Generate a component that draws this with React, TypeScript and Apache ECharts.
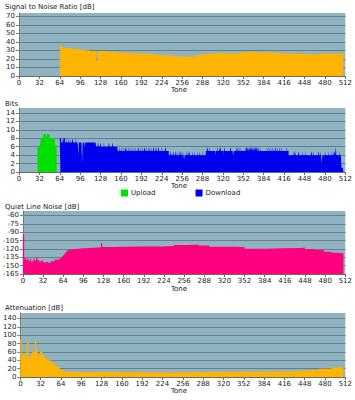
import React, { useEffect, useRef } from "react";
import * as echarts from "echarts";

// ---------- data ----------
const toneMax = 512;
const toneStep = 32;

// SNR [dB]: [startTone, value] steps (value holds until next start)
const snrSteps: [number, number][] = [
  [64, 36], [66, 34], [70, 33], [73, 33.5], [76, 32.5], [80, 32], [84, 32], [88, 31.5],
  [92, 31.5], [96, 30.5], [100, 31], [104, 30], [107, 30.5], [110, 29.5], [116, 29],
  [121, 18], [123, 29], [126, 29.5], [130, 29], [134, 29], [140, 28], [144, 28.5],
  [152, 28], [156, 27], [160, 27.5], [168, 27], [176, 27.5], [180, 26.5], [184, 26.5],
  [192, 26], [200, 26.5], [204, 25.5], [208, 26], [212, 25], [220, 24.5], [228, 24],
  [236, 23.5], [244, 23], [256, 22.5], [268, 23], [276, 24], [282, 25], [288, 26],
  [296, 26.5], [304, 26], [312, 27], [320, 26.5], [328, 26.5], [340, 27], [348, 28],
  [356, 28.5], [366, 28], [376, 27.5], [392, 27], [408, 26.5], [420, 26], [440, 25.5],
  [456, 25], [472, 26.5], [490, 26], [500, 26.5], [509, 26.5],
];

// Bits: [fromTone, toTone, bits] base levels, plus single-tone exceptions
const upBase: [number, number, number][] = [
  [29, 34, 6], [34, 38, 8], [38, 43, 9], [43, 44, 8], [44, 48, 9], [48, 57, 8], [57, 59, 6],
];
const downBase: [number, number, number][] = [
  [64, 121, 7], [121, 155, 6], [155, 235, 5], [235, 293, 4], [293, 423, 5], [423, 506, 4], [506, 509, 1],
];
const downExceptions: [number, number][] = [
  [64, 8], [65, 8], [68, 8], [70, 8], [71, 8], [74, 8], [77, 8], [80, 8], [84, 8], [89, 8],
  [93, 4], [99, 2], [103, 6], [124, 7], [128, 7], [133, 7], [141, 7], [147, 7],
  [157, 6], [160, 6], [163, 6], [166, 6], [168, 6], [171, 6], [174, 6], [177, 6], [180, 6],
  [183, 6], [187, 6], [190, 6], [193, 6], [197, 6], [200, 6], [204, 6], [207, 6], [211, 6],
  [215, 6], [219, 6], [224, 6], [230, 6],
  [238, 5], [242, 5], [246, 5], [249, 5], [252, 5], [254, 5], [257, 5], [259, 3], [262, 5],
  [265, 5], [267, 5], [272, 5], [275, 5], [280, 5], [283, 5], [288, 5],
  [296, 6], [299, 6], [308, 4], [311, 6], [314, 6], [316, 6], [321, 4], [322, 6], [332, 6],
  [336, 4], [342, 6], [345, 6], [348, 6], [355, 6], [357, 6], [359, 6], [361, 6], [363, 6],
  [365, 6], [367, 6], [369, 6], [371, 6], [373, 6], [375, 6], [378, 6], [389, 6], [392, 6],
  [395, 6], [398, 6], [402, 6], [405, 6], [408, 6], [411, 6], [420, 6],
  [431, 5], [433, 5], [439, 5], [444, 5], [449, 5], [459, 5], [462, 5], [470, 5], [473, 5],
  [475, 2], [480, 5], [485, 5], [490, 5], [493, 5], [495, 5], [497, 6], [502, 5],
];

// Quiet Line Noise [dB]
const qlnSteps: [number, number][] = [
  [0, -95], [2, -140], [3, -136], [5, -140], [7, -137], [9, -142], [11, -138], [13, -143],
  [16, -139], [19, -141], [21, -136], [23, -140], [26, -143], [29, -141], [32, -144],
  [36, -143], [40, -145], [44, -142], [48, -143], [50, -139], [54, -140], [57, -137],
  [60, -136], [62, -133], [64, -131], [66, -128], [68, -125], [70, -123], [72, -121],
  [76, -120], [84, -119], [96, -118.5], [108, -117.5], [120, -117], [124, -110],
  [126, -116.5], [140, -116], [160, -115.5], [190, -115.5], [220, -115], [240, -113],
  [256, -112.5], [280, -114], [296, -116], [320, -116], [340, -117], [352, -119.5],
  [384, -119], [416, -118.5], [440, -118], [448, -120], [464, -122], [478, -125],
  [490, -127], [500, -128], [509, -128],
];

// Attenuation [dB]
const attSteps: [number, number][] = [
  [0, 90], [2, 52], [3, 55], [5, 50], [7, 58], [9, 42], [10, 60], [11, 88], [13, 45],
  [15, 50], [17, 58], [19, 62], [21, 60], [23, 88], [25, 65], [27, 58], [28, 40],
  [29, 55], [31, 62], [33, 60], [35, 52], [37, 48], [39, 45], [41, 42], [44, 40],
  [48, 37], [51, 33], [54, 28], [57, 25], [60, 21], [63, 18], [66, 15], [69, 13],
  [72, 12], [80, 11.5], [160, 11], [240, 12], [300, 12.5], [360, 13], [400, 14],
  [430, 15.5], [450, 17], [470, 20], [490, 22], [500, 24], [509, 24],
];

// ---------- helpers ----------
function expand(base: [number, number, number][], exc: [number, number][]): [number, number][] {
  const map = new Map<number, number>(exc);
  const out: [number, number][] = [];
  let last = 0;
  let end = 0;
  for (const [a, b, v] of base) {
    for (let t = a; t < b; t++) {
      last = map.has(t) ? (map.get(t) as number) : v;
      out.push([t, last]);
    }
    end = b;
  }
  out.push([end, last]);
  return out;
}

const FONT = "DejaVu Sans";
const BG = "#8fb3c0";
const GRIDLINE = "#667f89";

const grids = [
  { top: 13, height: 63, min: 0, max: 74, interval: 10 },
  { top: 108, height: 64, min: 0, max: 15.2, interval: 2 },
  { top: 211, height: 63, min: -165, max: -52, interval: 15 },
  { top: 313, height: 64, min: 0, max: 153, interval: 20 },
];
const titles = [
  { text: "Signal to Noise Ratio [dB]", y: 6.5 },
  { text: "Bits", y: 104 },
  { text: "Quiet Line Noise [dB]", y: 207 },
  { text: "Attenuation [dB]", y: 308 },
];
const toneLabelY = [90, 186, 289, 391];

function series(name: string, data: [number, number][], color: string, idx: number) {
  return {
    type: "line",
    name,
    xAxisIndex: idx,
    yAxisIndex: idx,
    data,
    step: "end",
    symbol: "none",
    showSymbol: false,
    silent: true,
    lineStyle: { width: 0, color },
    itemStyle: { color },
    areaStyle: { color, opacity: 1, origin: "start" },
  };
}

export default function App() {
  const ref = useRef<HTMLDivElement>(null);
  useEffect(() => {
    if (!ref.current) return;
    const chart = echarts.init(ref.current, undefined, { renderer: "svg" });
    const option: any = {
      animation: false,
      grid: grids.map((g) => ({
        left: 19,
        right: 7,
        top: g.top,
        height: g.height,
        show: true,
        backgroundColor: BG,
        borderWidth: 0,
      })),
      xAxis: grids.map((_, i) => ({
        type: "value",
        gridIndex: i,
        min: 0,
        max: toneMax,
        interval: toneStep,
        axisLine: { show: true, lineStyle: { color: "#6a6a6a", width: 1 } },
        axisTick: { show: true, length: 3, lineStyle: { color: "#6a6a6a" } },
        axisLabel: { fontSize: 7, fontFamily: FONT, color: "#222", margin: 3 },
        splitLine: { show: false },
      })),
      yAxis: grids.map((g, i) => ({
        type: "value",
        gridIndex: i,
        min: g.min,
        max: g.max,
        interval: g.interval,
        axisLine: { show: true, lineStyle: { color: "#7a7a7a", width: 1 } },
        axisTick: { show: true, length: 3, lineStyle: { color: "#7a7a7a" } },
        axisLabel: { fontSize: 7, fontFamily: FONT, color: "#222", margin: 4, showMaxLabel: false },
        splitLine: { show: true, showMaxLine: false, lineStyle: { color: GRIDLINE, width: 1 } },
      })),
      legend: {
        data: ["Upload", "Download"],
        left: 121,
        top: 189.5,
        icon: "rect",
        itemWidth: 7,
        itemHeight: 7,
        itemGap: 40,
        padding: 0,
        selectedMode: false,
        textStyle: { fontSize: 7, fontFamily: FONT, color: "#222", padding: [0, 0, 0, -2] },
      },
      graphic: [
        ...titles.map((t) => ({
          type: "text",
          x: 5,
          y: t.y,
          silent: true,
          style: { text: t.text, fill: "#222", fontSize: 7, fontFamily: FONT, verticalAlign: "middle", align: "left" },
        })),
        ...toneLabelY.map((y) => ({
          type: "text",
          x: 179,
          y,
          silent: true,
          style: { text: "Tone", fill: "#222", fontSize: 7, fontFamily: FONT, verticalAlign: "middle", align: "center" },
        })),
      ],
      series: [
        series("SNR", snrSteps, "#ffb400", 0),
        series("Upload", expand(upBase, []), "#00e000", 1),
        series("Download", expand(downBase, downExceptions), "#0000ee", 1),
        series("QLN", qlnSteps, "#ff0080", 2),
        series("Attenuation", attSteps, "#ffb400", 3),
      ],
    };
    chart.setOption(option);
    return () => chart.dispose();
  }, []);
  return (
    <div
      ref={ref}
      style={{ position: "absolute", left: 0, top: 0, width: 355, height: 400, background: "#fff" }}
    />
  );
}
